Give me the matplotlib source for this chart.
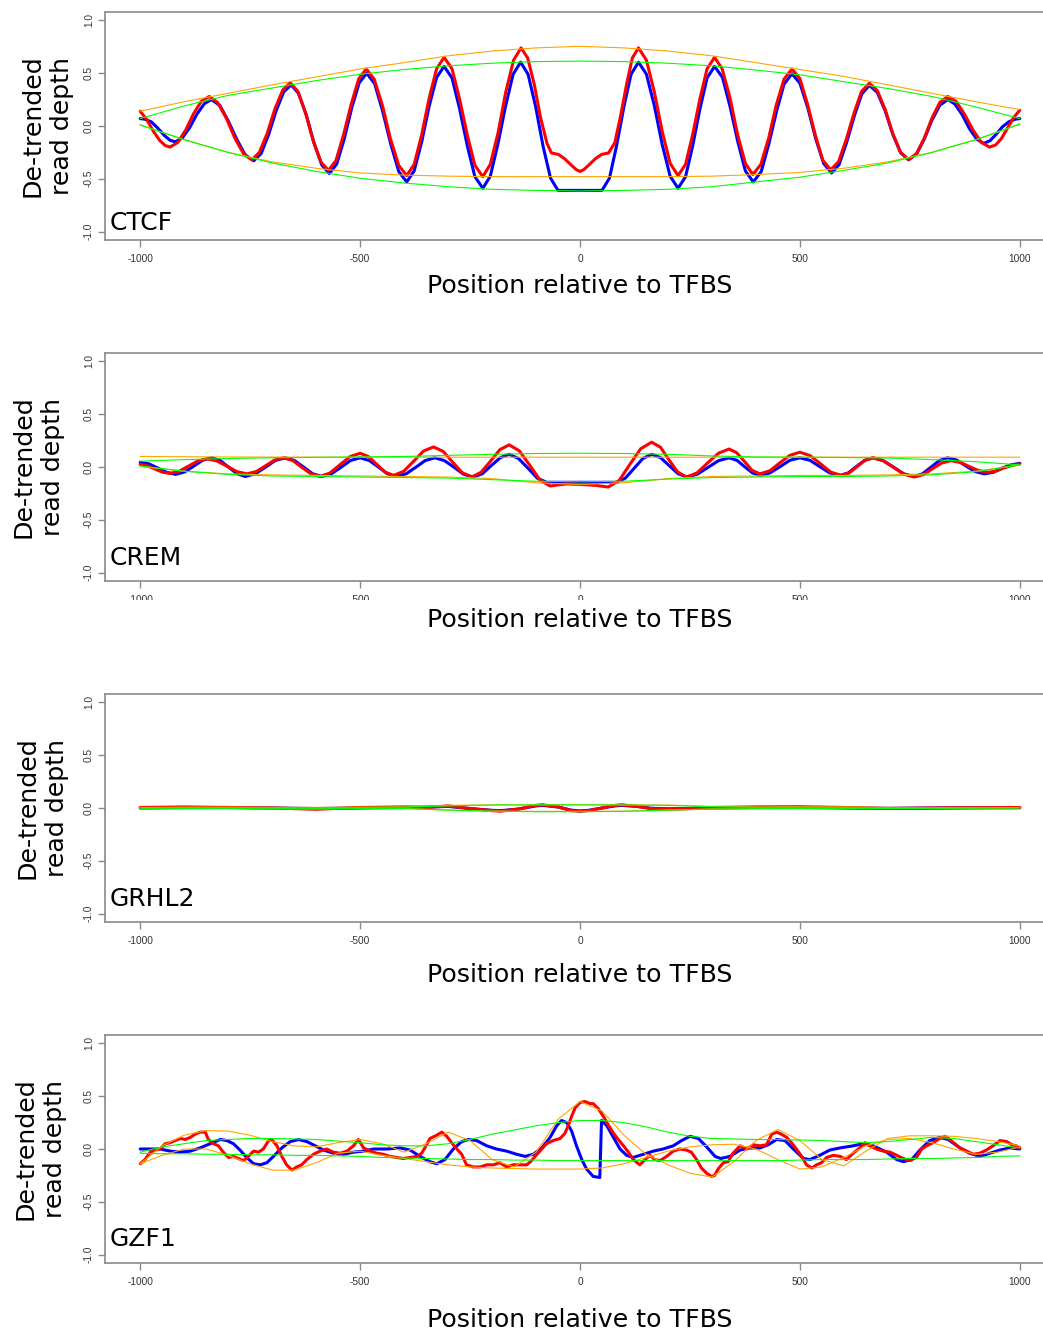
import matplotlib
matplotlib.use("Agg")
import matplotlib.pyplot as plt
from matplotlib.transforms import Bbox, TransformedBbox

# canvas size in pixels
FIG_W, FIG_H = 1043, 1333

# ---------------- CTCF ----------------
ctcf_red_x = [-1000, -985, -970, -955, -943, -932, -914, -896, -879, -861,
              -843, -824, -804, -785, -765, -746, -729, -711, -694, -676,
              -659, -642, -624, -607, -589, -572, -555, -538, -520, -503,
              -486, -468, -449, -431, -412, -394, -377, -360, -343, -326,
              -309, -291, -274, -256, -239, -221, -204, -186, -169, -151,
              -134, -119, -104, -90, -75, -65, -49, -35, -20, -8,
              0, 8, 20, 35, 49, 65, 79, 92, 106, 119,
              133, 151, 169, 187, 205, 223, 240, 256, 273, 289,
              306, 323, 341, 358, 376, 393, 411, 429, 446, 464,
              482, 500, 517, 535, 552, 570, 588, 605, 623, 640,
              658, 676, 694, 711, 729, 747, 765, 783, 800, 818,
              836, 855, 874, 893, 912, 931, 945, 958, 972, 986, 1000]
ctcf_red_y = [0.14, 0.06, -0.05, -0.14, -0.185, -0.20, -0.154, -0.034, 0.114, 0.234,
              0.28, 0.223, 0.073, -0.113, -0.263, -0.32, -0.25, -0.068, 0.158, 0.34,
              0.41, 0.331, 0.124, -0.134, -0.341, -0.42, -0.328, -0.089, 0.209, 0.448,
              0.54, 0.444, 0.192, -0.122, -0.374, -0.47, -0.363, -0.084, 0.264, 0.543,
              0.65, 0.542, 0.26, -0.09, -0.372, -0.48, -0.364, -0.059, 0.319, 0.624,
              0.74, 0.645, 0.395, 0.085, -0.165, -0.255, -0.27, -0.31, -0.37, -0.415,
              -0.43, -0.415, -0.37, -0.31, -0.27, -0.255, -0.16, 0.088, 0.397, 0.645,
              0.74, 0.624, 0.323, -0.053, -0.354, -0.47, -0.363, -0.084, 0.264, 0.543,
              0.65, 0.544, 0.267, -0.077, -0.354, -0.46, -0.365, -0.115, 0.195, 0.445,
              0.54, 0.449, 0.211, -0.086, -0.324, -0.415, -0.337, -0.132, 0.122, 0.327,
              0.405, 0.336, 0.155, -0.07, -0.251, -0.32, -0.263, -0.113, 0.073, 0.223,
              0.28, 0.234, 0.114, -0.034, -0.154, -0.20, -0.18, -0.12, -0.02, 0.08, 0.15]
ctcf_blue_x = [-1000, -990, -975, -960, -945, -932,
               -920, -904, -887, -871, -854, -838, -819, -800, -780, -761,
               -742, -725, -708, -691, -674, -657, -640, -622, -605, -587,
               -570, -553, -536, -519, -502, -485, -467, -449, -430, -412,
               -394, -377, -360, -343, -326, -309, -291, -274, -256, -239,
               -221, -204, -187, -169, -152, -135, -118, -101, -84, -67,
               -50, 50, 67, 83, 100, 116,
               133, 151, 169, 187, 205, 223, 240, 256, 273, 289,
               306, 324, 341, 359, 376, 394, 412, 429, 447, 464,
               482, 500, 518, 536, 554, 572, 589, 606, 624, 641,
               658, 676, 694, 711, 729, 747, 765, 783, 800, 818,
               836, 852, 869, 885, 902, 918, 932, 946, 960, 975, 990, 1000]
ctcf_blue_y = [0.07, 0.065, 0.04, -0.02, -0.09, -0.135,
               -0.15, -0.112, -0.012, 0.112, 0.212, 0.25, 0.195, 0.05, -0.13, -0.275,
               -0.33, -0.261, -0.082, 0.142, 0.321, 0.39, 0.31, 0.10, -0.16, -0.37,
               -0.45, -0.359, -0.122, 0.172, 0.409, 0.50, 0.402, 0.145, -0.175, -0.432,
               -0.53, -0.425, -0.152, 0.187, 0.46, 0.565, 0.455, 0.167, -0.192, -0.48,
               -0.59, -0.476, -0.178, 0.193, 0.491, 0.605, 0.489, 0.186, -0.191, -0.494,
               -0.61, -0.61, -0.494, -0.191, 0.186, 0.489,
               0.605, 0.491, 0.193, -0.178, -0.476, -0.59, -0.48, -0.192, 0.167, 0.455,
               0.565, 0.46, 0.187, -0.152, -0.425, -0.53, -0.432, -0.176, 0.141, 0.397,
               0.495, 0.405, 0.171, -0.121, -0.355, -0.445, -0.366, -0.159, 0.099, 0.306,
               0.385, 0.318, 0.142, -0.077, -0.253, -0.32, -0.266, -0.123, 0.053, 0.196,
               0.25, 0.21, 0.107, -0.022, -0.125, -0.165, -0.14, -0.08, -0.01, 0.04, 0.065, 0.07]

env_x = [-1000, -900, -800, -700, -600, -500, -400, -300, -200, -100, 0,
         100, 200, 300, 400, 500, 600, 700, 800, 900, 1000]
ctcf_orange_hi = [0.14, 0.23, 0.31, 0.39, 0.465, 0.54, 0.60, 0.665, 0.71, 0.74, 0.755,
                  0.74, 0.71, 0.665, 0.60, 0.535, 0.47, 0.39, 0.31, 0.23, 0.155]
ctcf_orange_lo = [0.01, -0.13, -0.25, -0.34, -0.40, -0.445, -0.465, -0.475, -0.48, -0.48, -0.48,
                  -0.48, -0.48, -0.475, -0.46, -0.44, -0.40, -0.34, -0.25, -0.13, 0.015]
ctcf_green_hi = [0.07, 0.19, 0.29, 0.36, 0.43, 0.49, 0.535, 0.57, 0.595, 0.61, 0.615,
                 0.61, 0.595, 0.57, 0.53, 0.485, 0.42, 0.355, 0.28, 0.18, 0.07]
ctcf_green_lo = [0.01, -0.13, -0.25, -0.35, -0.43, -0.495, -0.54, -0.575, -0.60, -0.61, -0.615,
                 -0.61, -0.60, -0.575, -0.53, -0.485, -0.42, -0.35, -0.25, -0.13, 0.02]

# ---------------- CREM ----------------
crem_red_x = [-1000, -983, -966, -949, -932, -911, -890, -869, -848, -825, -802, -780,
              -757, -736, -715, -695, -674, -653, -633, -612, -592, -569, -546, -523,
              -500, -481, -462, -443, -424, -401, -378, -356, -333, -311, -290, -268,
              -246, -225, -203, -182, -161, -138, -114, -91, -68, -50, -30, 0, 20, 38,
              64, 89, 113, 138, 163, 183, 202, 222, 242, 266, 290, 315,
              339, 356, 374, 391, 409, 432, 454, 477, 500, 523, 547, 570,
              594, 612, 630, 648, 666, 689, 713, 736, 760, 781, 801, 822,
              843, 864, 885, 906, 927, 945, 963, 982, 1000]
crem_red_y = [0.025, 0.01, -0.02, -0.05, -0.06, -0.04, 0.0085, 0.057, 0.077, 0.056, 0.006, -0.044,
              -0.065, -0.043, 0.011, 0.065, 0.087, 0.061, -0.0015, -0.064, -0.09, -0.058, 0.02, 0.098,
              0.13, 0.099, 0.025, -0.049, -0.08, -0.041, 0.055, 0.151, 0.19, 0.148, 0.0475, -0.053,
              -0.095, -0.05, 0.0575, 0.165, 0.21, 0.153, 0.015, -0.123, -0.18, -0.17, -0.16, -0.165, -0.17, -0.175,
              -0.19, -0.128, 0.0225, 0.173, 0.235, 0.187, 0.07, -0.047, -0.095, -0.056, 0.0375, 0.131,
              0.17, 0.136, 0.0525, -0.031, -0.065, -0.035, 0.0375, 0.11, 0.14, 0.108, 0.03, -0.048,
              -0.08, -0.056, 0.0035, 0.063, 0.087, 0.06, -0.004, -0.068, -0.095, -0.072, -0.0175, 0.037,
              0.06, 0.044, 0.005, -0.034, -0.05, -0.04, -0.01, 0.015, 0.03]
crem_blue_x = [-1000, -980, -960, -940, -920, -899, -878, -858, -837, -818, -799, -780,
               -761, -738, -715, -693, -670, -649, -628, -608, -587, -565, -543, -522,
               -500, -479, -458, -438, -417, -395, -373, -352, -330, -308, -286, -265,
               -243, -222, -202, -181, -161, -140, -118, -97, -76, 83, 103, 123, 143,
               163, 183, 203, 223, 243, 267, 291, 315, 339, 357, 374, 392,
               410, 432, 455, 477, 500, 523, 545, 568, 591, 610, 628, 647,
               666, 689, 713, 736, 760, 779, 798, 817, 836, 857, 877, 898,
               919, 940, 960, 980, 1000]
crem_blue_y = [0.045, 0.03, -0.01, -0.05, -0.07, -0.047, 0.0085, 0.064, 0.087, 0.061, -0.0015, -0.064,
               -0.09, -0.064, -0.0015, 0.061, 0.087, 0.061, -0.0015, -0.064, -0.09, -0.064, -0.0015, 0.061,
               0.087, 0.061, -0.0015, -0.064, -0.09, -0.064, -0.0015, 0.061, 0.087, 0.06, -0.004, -0.068,
               -0.095, -0.064, 0.0125, 0.089, 0.12, 0.081, -0.0125, -0.106, -0.145, -0.145, -0.106, -0.0125, 0.081,
               0.12, 0.089, 0.0125, -0.064, -0.095, -0.068, -0.004, 0.06, 0.087, 0.063, 0.0035, -0.056,
               -0.08, -0.056, 0.0035, 0.063, 0.087, 0.063, 0.0035, -0.056, -0.08, -0.056, 0.0035, 0.063,
               0.087, 0.061, -0.0015, -0.064, -0.09, -0.064, -0.0015, 0.061, 0.087, 0.065, 0.011, -0.043,
               -0.065, -0.05, -0.01, 0.02, 0.035]
crem_orange_hi = [0.10, 0.097, 0.095, 0.094, 0.093, 0.093, 0.093, 0.093, 0.093, 0.093, 0.093,
                  0.093, 0.093, 0.093, 0.093, 0.093, 0.093, 0.093, 0.093, 0.093, 0.093]
crem_orange_lo = [0.005, -0.04, -0.065, -0.075, -0.08, -0.085, -0.09, -0.095, -0.11, -0.15, -0.165,
                  -0.15, -0.11, -0.09, -0.085, -0.08, -0.08, -0.075, -0.065, -0.04, 0.02]
crem_green_hi = [0.055, 0.07, 0.08, 0.088, 0.092, 0.095, 0.10, 0.11, 0.12, 0.128, 0.13,
                 0.128, 0.12, 0.105, 0.095, 0.093, 0.09, 0.085, 0.07, 0.05, 0.02]
crem_green_lo = [0.01, -0.04, -0.07, -0.085, -0.09, -0.095, -0.10, -0.105, -0.12, -0.135, -0.14,
                 -0.135, -0.115, -0.10, -0.095, -0.09, -0.09, -0.085, -0.075, -0.045, 0.02]

# ---------------- GRHL2 ----------------
grhl2_x = [-1000, -900, -800, -700, -600, -500, -400, -350, -300, -250, -200, -180,
           -140, -100, -85, -50, -20, 0, 20, 50, 80, 95, 130, 160, 200, 250,
           300, 400, 500, 600, 700, 800, 900, 1000]
grhl2_red = [0.005, 0.01, 0.005, 0.0, -0.012, 0.005, 0.01, 0.005, 0.02, -0.005, -0.025, -0.03,
             -0.01, 0.025, 0.03, 0.01, -0.025, -0.03, -0.025, 0.0, 0.025, 0.03, 0.015, -0.005, -0.01, -0.005,
             0.005, 0.01, 0.012, 0.005, -0.005, 0.0, 0.003, 0.005]
grhl2_blue = [0.0, 0.003, 0.005, 0.0, -0.005, 0.0, 0.005, 0.008, 0.015, -0.005, -0.022, -0.025,
              -0.01, 0.02, 0.025, 0.01, -0.02, -0.028, -0.022, 0.0, 0.02, 0.025, 0.015, -0.002, -0.008, -0.005,
              0.0, 0.005, 0.005, 0.0, -0.003, 0.0, 0.002, 0.002]
grhl2_orange_hi = [0.005, 0.008, 0.008, 0.006, 0.006, 0.008, 0.01, 0.025, 0.03, 0.03, 0.03,
                   0.03, 0.028, 0.015, 0.01, 0.012, 0.01, 0.006, 0.004, 0.005, 0.005]
grhl2_orange_lo = [0.0, -0.003, -0.005, -0.008, -0.01, -0.006, -0.005, -0.02, -0.03, -0.032, -0.032,
                   -0.03, -0.02, -0.01, -0.008, -0.006, -0.006, -0.006, -0.004, -0.002, 0.002]
grhl2_green_hi = [0.002, 0.005, 0.005, 0.004, 0.004, 0.005, 0.008, 0.02, 0.028, 0.03, 0.03,
                  0.028, 0.025, 0.012, 0.006, 0.006, 0.005, 0.004, 0.003, 0.003, 0.002]
grhl2_green_lo = [-0.003, -0.004, -0.005, -0.006, -0.006, -0.005, -0.005, -0.02, -0.03, -0.035, -0.035,
                  -0.032, -0.02, -0.01, -0.006, -0.005, -0.005, -0.004, -0.003, -0.002, 0.0]

# ---------------- GZF1 ----------------
gzf1_red_x = [-1000, -989, -977, -966, -955, -943, -932, -920, -909, -898, -886, -875, -864, -852,
              -845, -833, -822, -811, -799, -788, -777, -765, -754, -742, -731, -720, -708, -701,
              -689, -678, -667, -655, -644, -633, -621, -606, -591, -576, -561, -545, -530, -515,
              -504, -492, -477, -462, -447, -432, -417, -402, -386, -370, -360, -350, -341, -326,
              -314, -303, -292, -280, -269, -258, -243, -227, -212, -197, -182, -167, -152, -136,
              -121, -110, -98, -87, -76, -61, -45, -34, -27, -19, -11, 0, 11, 23,
              30, 42, 53, 64, 76, 87, 99, 110, 121, 136, 148, 159, 170, 182,
              197, 212, 227, 242, 253, 265, 276, 288, 299, 306, 314, 326, 337, 348,
              364, 379, 394, 409, 424, 436, 447, 458, 470, 481, 492, 504, 515, 527,
              538, 549, 561, 576, 591, 606, 621, 636, 648, 659, 674, 689, 705, 720,
              735, 750, 765, 777, 788, 803, 818, 830, 841, 852, 864, 879, 894, 909,
              924, 939, 955, 970, 982, 992, 1000]
gzf1_red_y = [-0.14, -0.10, -0.03, -0.01, 0.0, 0.05, 0.06, 0.08, 0.10, 0.09, 0.11, 0.14, 0.16, 0.16,
              0.09, 0.05, 0.03, -0.03, -0.08, -0.07, -0.09, -0.11, -0.07, -0.02, -0.03, 0.0, 0.08, 0.09,
              0.03, -0.07, -0.15, -0.20, -0.17, -0.15, -0.10, -0.05, -0.02, 0.0, -0.03, -0.04, -0.02, 0.03,
              0.09, 0.01, -0.02, -0.04, -0.05, -0.07, -0.08, -0.09, -0.08, -0.07, -0.04, 0.03, 0.10, 0.13,
              0.16, 0.12, 0.06, 0.0, -0.05, -0.15, -0.17, -0.17, -0.15, -0.15, -0.13, -0.17, -0.15, -0.15,
              -0.15, -0.11, -0.05, 0.0, 0.05, 0.08, 0.10, 0.15, 0.22, 0.31, 0.39, 0.44, 0.45, 0.43,
              0.43, 0.38, 0.31, 0.23, 0.15, 0.09, 0.03, -0.03, -0.10, -0.15, -0.10, -0.06, -0.10, -0.11,
              -0.07, -0.02, 0.0, -0.01, -0.03, -0.10, -0.18, -0.23, -0.26, -0.25, -0.19, -0.13, -0.12, -0.04,
              0.03, 0.0, 0.04, 0.03, 0.04, 0.14, 0.16, 0.14, 0.11, 0.06, 0.0, -0.07, -0.15, -0.18,
              -0.15, -0.13, -0.08, -0.06, -0.07, -0.10, -0.04, 0.01, 0.06, 0.03, 0.0, -0.02, -0.03, -0.06,
              -0.09, -0.11, -0.08, 0.0, 0.03, 0.06, 0.10, 0.12, 0.09, 0.05, 0.01, -0.02, -0.05, -0.04,
              -0.01, 0.03, 0.08, 0.07, 0.04, 0.03, 0.01]
gzf1_blue_x = [-1000, -977, -955, -932, -909, -886, -864, -841, -818, -803, -788, -773, -758, -742,
               -727, -712, -697, -678, -659, -640, -621, -602, -583, -561, -538, -515, -492, -470,
               -439, -409, -386, -364, -341, -326, -307, -288, -269, -254, -235, -212, -190, -167,
               -144, -125, -106, -87, -68, -53, -42, -30, -19, -8, 4, 15, 30, 45, 49, 61,
               76, 91, 106, 121, 144, 167, 189, 212, 231, 250, 269, 288, 307, 320, 341, 364,
               386, 409, 428, 447, 466, 485, 508, 523, 545, 568, 591, 621, 644, 667, 697, 720,
               735, 754, 773, 795, 818, 837, 864, 886, 909, 932, 955, 977, 1000]
gzf1_blue_y = [0.0, 0.0, 0.0, -0.02, -0.03, -0.02, 0.01, 0.05, 0.09, 0.08, 0.05, -0.01, -0.08, -0.14,
               -0.15, -0.13, -0.07, 0.01, 0.07, 0.09, 0.07, 0.03, -0.01, -0.04, -0.05, -0.03, -0.02, 0.0,
               0.0, 0.01, -0.01, -0.07, -0.12, -0.14, -0.10, 0.0, 0.07, 0.09, 0.08, 0.03, 0.0, -0.02,
               -0.05, -0.07, -0.05, 0.01, 0.11, 0.22, 0.27, 0.25, 0.17, 0.03, -0.10, -0.19, -0.26, -0.27, 0.27, 0.22,
               0.11, 0.0, -0.06, -0.08, -0.05, -0.02, 0.0, 0.03, 0.08, 0.12, 0.10, 0.02, -0.07, -0.09, -0.07, -0.01,
               0.01, 0.01, 0.04, 0.09, 0.08, 0.0, -0.09, -0.10, -0.06, -0.01, 0.01, 0.03, 0.05, 0.03, -0.03, -0.10,
               -0.12, -0.10, -0.01, 0.08, 0.11, 0.09, 0.01, -0.04, -0.07, -0.04, -0.01, 0.01, 0.0]
gzf1_env_x = [-1000, -950, -900, -850, -800, -750, -700, -650, -600, -550, -500, -450, -400, -350,
              -300, -250, -200, -150, -100, -50, 0, 50, 100, 150, 200, 250, 300, 350,
              400, 450, 500, 550, 600, 650, 700, 750, 800, 850, 900, 950, 1000]
gzf1_orange_a = [-0.14, 0.03, 0.13, 0.175, 0.17, 0.13, 0.07, 0.03, 0.02, 0.06, 0.09, 0.05, -0.03, 0.05,
                 0.16, 0.08, -0.10, -0.17, -0.03, 0.28, 0.45, 0.36, 0.13, -0.05, -0.15, -0.23, -0.265, -0.12,
                 0.08, 0.185, 0.08, -0.10, -0.16, -0.02, 0.10, 0.125, 0.125, 0.12, 0.10, 0.07, 0.03]
gzf1_orange_b = [-0.14, -0.06, 0.0, 0.0, -0.06, -0.14, -0.20, -0.20, -0.13, -0.04, -0.02, -0.06, -0.09, -0.12,
                 -0.15, -0.17, -0.18, -0.185, -0.19, -0.19, -0.19, -0.18, -0.14, -0.08, -0.02, 0.02, 0.04, 0.045,
                 0.0, -0.10, -0.19, -0.17, -0.08, 0.03, 0.09, 0.10, 0.06, 0.0, -0.05, -0.03, 0.02]
gzf1_green_hi = [-0.03, 0.02, 0.05, 0.08, 0.09, 0.10, 0.10, 0.095, 0.09, 0.075, 0.06, 0.04, 0.03, 0.03,
                 0.05, 0.09, 0.14, 0.18, 0.22, 0.25, 0.27, 0.27, 0.25, 0.21, 0.16, 0.12, 0.10, 0.095,
                 0.09, 0.09, 0.085, 0.08, 0.07, 0.06, 0.07, 0.09, 0.11, 0.10, 0.07, 0.04, 0.01]
gzf1_green_lo = [-0.04, -0.045, -0.045, -0.05, -0.05, -0.055, -0.055, -0.06, -0.06, -0.065, -0.07, -0.08, -0.085, -0.09,
                 -0.095, -0.1, -0.1, -0.105, -0.105, -0.11, -0.11, -0.11, -0.11, -0.11, -0.11, -0.11, -0.11, -0.11,
                 -0.11, -0.11, -0.105, -0.1, -0.1, -0.1, -0.095, -0.09, -0.09, -0.085, -0.08, -0.07, -0.065]

# panel layout in pixels: axes bottom edge, label baseline, x-label centre, y-label centre x,
# and (for CREM) the row where the tick labels are cut off in the original
panels = [
    dict(name="CTCF", bottom=240, name_y=230, xlab_y=286, ylab_x=47, cut=None,
         red=(ctcf_red_x, ctcf_red_y), blue=(ctcf_blue_x, ctcf_blue_y),
         env=[(env_x, ctcf_orange_hi, "orange"), (env_x, ctcf_orange_lo, "orange"),
              (env_x, ctcf_green_hi, "#00ff00"), (env_x, ctcf_green_lo, "#00ff00")]),
    dict(name="CREM", bottom=581, name_y=565, xlab_y=620, ylab_x=38, cut=600,
         red=(crem_red_x, crem_red_y), blue=(crem_blue_x, crem_blue_y),
         env=[(env_x, crem_orange_hi, "orange"), (env_x, crem_orange_lo, "orange"),
              (env_x, crem_green_hi, "#00ff00"), (env_x, crem_green_lo, "#00ff00")]),
    dict(name="GRHL2", bottom=922, name_y=906, xlab_y=975, ylab_x=42, cut=None,
         red=(grhl2_x, grhl2_red), blue=(grhl2_x, grhl2_blue),
         env=[(env_x, grhl2_orange_hi, "orange"), (env_x, grhl2_orange_lo, "orange"),
              (env_x, grhl2_green_hi, "#00ff00"), (env_x, grhl2_green_lo, "#00ff00")]),
    dict(name="GZF1", bottom=1263, name_y=1246, xlab_y=1320, ylab_x=40, cut=None,
         red=(gzf1_red_x, gzf1_red_y), blue=(gzf1_blue_x, gzf1_blue_y),
         env=[(gzf1_env_x, gzf1_orange_a, "orange"), (gzf1_env_x, gzf1_orange_b, "orange"),
              (gzf1_env_x, gzf1_green_hi, "#00ff00"), (gzf1_env_x, gzf1_green_lo, "#00ff00")]),
]

fig = plt.figure(figsize=(FIG_W / 100, FIG_H / 100), dpi=100)
box_col = "#8a8a8a"

for p in panels:
    # axes run past the right edge of the canvas, as in the original
    ax = fig.add_axes([105 / FIG_W, 1 - p["bottom"] / FIG_H, 950 / FIG_W, 228 / FIG_H])
    ax.plot(*p["blue"], color="blue", lw=2.2, zorder=3,
            solid_joinstyle="round", solid_capstyle="round")
    ax.plot(*p["red"], color="red", lw=2.2, zorder=4,
            solid_joinstyle="round", solid_capstyle="round")
    for ex, ey, col in p["env"]:
        ax.plot(ex, ey, color=col, lw=0.8, zorder=5)

    ax.set_xlim(-1080, 1080)
    ax.set_ylim(-1.08, 1.08)
    ax.set_xticks([-1000, -500, 0, 500, 1000])
    ax.set_xticklabels(["-1000", "-500", "0", "500", "1000"])
    ax.set_yticks([-1.0, -0.5, 0.0, 0.5, 1.0])
    ax.set_yticklabels(["-1.0", "-0.5", "0.0", "0.5", "1.0"], rotation=90, va="center")
    for lab in ax.get_xticklabels() + ax.get_yticklabels():
        lab.set_fontfamily("Liberation Sans")
        lab.set_fontsize(7.3)
        lab.set_color("#333333")
    ax.tick_params(axis="both", length=5, width=1, color=box_col)
    ax.tick_params(axis="x", pad=5)
    ax.tick_params(axis="y", pad=3)
    for side in ("left", "top", "bottom"):
        ax.spines[side].set_color(box_col)
        ax.spines[side].set_linewidth(1.2)
    ax.spines["right"].set_visible(False)

    if p["cut"] is not None:
        keep = TransformedBbox(Bbox([[0, 1 - p["cut"] / FIG_H], [1, 1]]), fig.transFigure)
        for lab in ax.get_xticklabels():
            lab.set_clip_box(keep)
            lab.set_clip_on(True)

    fig.text(110 / FIG_W, 1 - p["name_y"] / FIG_H, p["name"],
             fontsize=18, ha="left", va="baseline")
    fig.text(580 / FIG_W, 1 - p["xlab_y"] / FIG_H, "Position relative to TFBS",
             fontsize=18.2, ha="center", va="center")
    fig.text(p["ylab_x"] / FIG_W, 1 - (p["bottom"] - 114) / FIG_H, "De-trended\nread depth",
             fontsize=18.2, rotation=90, ha="center", va="center", multialignment="center",
             linespacing=1.27)

fig.savefig("out.png", dpi=100)
